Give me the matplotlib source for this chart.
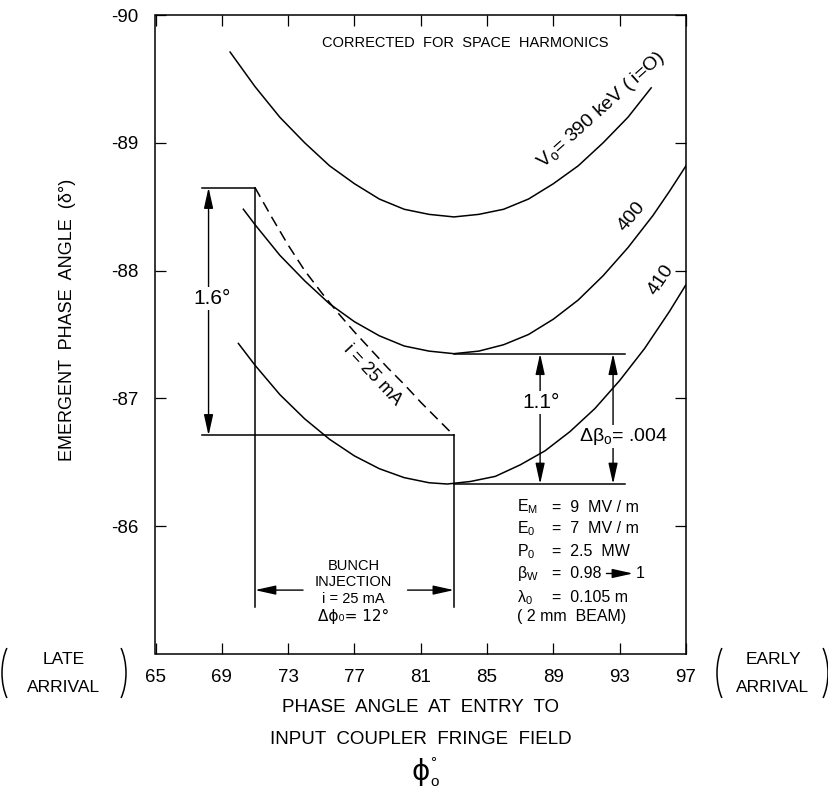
import matplotlib.pyplot as plt
from matplotlib.patches import Arc

plt.rcParams['font.family'] = ['Liberation Sans', 'DejaVu Sans']
plt.rcParams['mathtext.fontset'] = 'custom'
plt.rcParams['mathtext.rm'] = 'Liberation Sans'
plt.rcParams['mathtext.it'] = 'Liberation Sans:italic'
plt.rcParams['axes.unicode_minus'] = False

# curves (phase at entry, emergent phase)
x390 = [69.5, 71, 72.5, 74, 75.5, 77, 78.5, 80, 81.5, 83, 84.5, 86, 87.5, 89, 90.5, 92, 93.5, 94.9]
y390 = [-89.71, -89.44, -89.20, -89.00, -88.82, -88.68, -88.56, -88.48, -88.44, -88.42,
        -88.44, -88.48, -88.56, -88.68, -88.82, -89.00, -89.20, -89.43]

x400 = [70.3, 71, 72.5, 74, 75.5, 77, 78.5, 80, 81.5, 83, 84.5, 86, 87.5, 89, 90.5, 92, 93.5, 95, 96, 97]
y400 = [-88.48, -88.36, -88.12, -87.92, -87.74, -87.60, -87.49, -87.41, -87.37, -87.35,
        -87.37, -87.42, -87.50, -87.62, -87.77, -87.96, -88.18, -88.43, -88.62, -88.82]

x410 = [70, 71, 72.5, 74, 75.5, 77, 78.5, 80, 81.5, 82.6, 84, 85.5, 87, 88.5, 90, 91.5, 93, 94.5, 96, 97]
y410 = [-87.43, -87.26, -87.03, -86.84, -86.68, -86.55, -86.45, -86.38, -86.34, -86.33,
        -86.35, -86.39, -86.48, -86.59, -86.74, -86.92, -87.14, -87.39, -87.68, -87.89]

# i = 25 mA (dashed)
x25 = [71, 72, 73, 74, 75, 76, 77, 78, 79, 80, 81, 82, 83]
y25 = [-88.65, -88.42, -88.20, -88.00, -87.83, -87.67, -87.52, -87.38, -87.24, -87.11, -86.97, -86.84, -86.71]

# construction lines
bunch_start, bunch_end = 71, 83
top_left_y, bottom_left_y = -88.65, -86.71
min400, min410 = -87.35, -86.33
xticks = [65, 69, 73, 77, 81, 85, 89, 93, 97]
yticks = [-90, -89, -88, -87, -86]

W, H = 829, 793


def fpx(x, y):
    return x / W, 1 - y / H


fig = plt.figure(figsize=(W / 100, H / 100), dpi=100)
ax = fig.add_axes([155.5 / W, 1 - 654 / H, (686 - 155.5) / W, (654 - 15) / H])
ax.set_xlim(65, 97)
ax.set_ylim(-85, -90)
ax.set_xticks(xticks)
ax.set_yticks(yticks)
ax.tick_params(direction='in', length=8, width=0.9, top=True, right=True, labelsize=13.5)
ax.tick_params(axis='y', pad=12)
ax.tick_params(axis='x', pad=11)
for s in ax.spines.values():
    s.set_linewidth(1.1)

lw = 1.1
ax.plot(x390, y390, color='black', lw=lw)
ax.plot(x400, y400, color='black', lw=lw)
ax.plot(x410, y410, color='black', lw=lw)
ax.plot(x25, y25, color='black', lw=lw, linestyle=(0, (7, 4)))

# left construction
ax.plot([67.8, bunch_start], [top_left_y, top_left_y], color='black', lw=lw)
ax.plot([67.8, bunch_end], [bottom_left_y, bottom_left_y], color='black', lw=lw)
ax.plot([bunch_start, bunch_start], [top_left_y, -85.37], color='black', lw=lw)
ax.plot([bunch_end, bunch_end], [bottom_left_y, -85.37], color='black', lw=lw)

# right construction
ax.plot([83, 93.3], [min400, min400], color='black', lw=lw)
ax.plot([83, 93.3], [min410, min410], color='black', lw=lw)

arrow = dict(arrowstyle='<|-|>,head_length=0.9,head_width=0.2', color='black',
             lw=1.0, shrinkA=0, shrinkB=0, mutation_scale=14)
one_arrow = dict(arrowstyle='-|>,head_length=0.9,head_width=0.2', color='black',
                 lw=1.0, shrinkA=0, shrinkB=0, mutation_scale=14)
ax.annotate('', xy=(68.2, top_left_y), xytext=(68.2, bottom_left_y), arrowprops=arrow)
ax.annotate('', xy=(88.2, min400), xytext=(88.2, min410), arrowprops=arrow)
ax.annotate('', xy=(92.6, min400), xytext=(92.6, min410), arrowprops=arrow)
ax.annotate('', xy=(bunch_start, -85.50), xytext=(73.9, -85.50), arrowprops=one_arrow)
ax.annotate('', xy=(bunch_end, -85.50), xytext=(80.2, -85.50), arrowprops=one_arrow)

white = dict(facecolor='white', edgecolor='none', pad=1.5)
ax.text(68.4, -87.78, '1.6°', fontsize=15, ha='center', va='center', bbox=white)
ax.text(88.25, -86.97, '1.1°', fontsize=15, ha='center', va='center', bbox=white)
ax.text(93.2, -86.70, r'$\mathregular{Δβ_o}$= .004', fontsize=14, ha='center', va='center',
        bbox=dict(facecolor='white', edgecolor='none', pad=0.5))

ax.text(83.7, -89.78, 'CORRECTED  FOR  SPACE  HARMONICS', fontsize=10.5, ha='center', va='center')
ax.text(91.87, -89.26, r'$\mathregular{V_o}$= 390 keV ( i=O)', fontsize=14, ha='center', va='center',
        rotation=42, rotation_mode='anchor')
ax.text(93.7, -88.42, '400', fontsize=14, ha='center', va='center', rotation=50, rotation_mode='anchor')
ax.text(95.5, -87.93, '410', fontsize=14, ha='center', va='center', rotation=56, rotation_mode='anchor')
ax.text(78.1, -87.18, 'i = 25 mA', fontsize=13, ha='center', va='center', rotation=-47,
        rotation_mode='anchor')

bunch = ['BUNCH', 'INJECTION', 'i = 25 mA']
bunch_y = [-85.69, -85.56, -85.43]
for t, y in zip(bunch, bunch_y):
    ax.text(76.95, y, t, fontsize=10.5, ha='center', va='center')
ax.text(76.95, -85.29, 'Δϕ₀= 12°', fontsize=11, ha='center', va='center',
        family=['DejaVu Sans'])

params = [r'$\mathregular{E_M}$', r'$\mathregular{E_0}$', r'$\mathregular{P_0}$',
          r'$\mathregular{β_W}$', r'$\mathregular{λ_0}$']
values = ['=  9  MV / m', '=  7  MV / m', '=  2.5  MW', '=  0.98', '=  0.105 m']
param_y = [-86.15, -85.98, -85.80, -85.63, -85.44]
for p, v, y in zip(params, values, param_y):
    ax.text(86.8, y, p, fontsize=11.5, ha='left', va='center')
    ax.text(88.9, y, v, fontsize=11.5, ha='left', va='center')
ax.annotate('', xy=(93.8, -85.63), xytext=(92.2, -85.63), arrowprops=one_arrow)
ax.text(93.95, -85.63, '1', fontsize=11.5, ha='left', va='center')
ax.text(86.8, -85.29, '( 2 mm  BEAM)', fontsize=11.5, ha='left', va='center')

# axis titles
fig.text(*fpx(68, 320), 'EMERGENT  PHASE  ANGLE  (δ°)', rotation=90, fontsize=13,
         ha='center', va='center')
fig.text(*fpx(421, 708), 'PHASE  ANGLE  AT  ENTRY  TO', fontsize=13.5, ha='center', va='center')
fig.text(*fpx(421, 740), 'INPUT  COUPLER  FRINGE  FIELD', fontsize=13.5, ha='center', va='center')
fig.text(*fpx(421, 772), 'ϕ', fontsize=20, ha='center', va='center', family=['DejaVu Sans'])
fig.text(*fpx(430, 763), '°', fontsize=11, ha='left', va='center')
fig.text(*fpx(430, 782), 'o', fontsize=11, ha='left', va='center')

# (LATE ARRIVAL)  (EARLY ARRIVAL)
fig.text(*fpx(64, 660), 'LATE', fontsize=12.5, ha='center', va='center')
fig.text(*fpx(64, 688), 'ARRIVAL', fontsize=12.5, ha='center', va='center')
fig.text(*fpx(773, 660), 'EARLY', fontsize=12.5, ha='center', va='center')
fig.text(*fpx(773, 688), 'ARRIVAL', fontsize=12.5, ha='center', va='center')
for cx, t1, t2 in [(22, 120, 240), (106, -60, 60), (737, 120, 240), (808, -60, 60)]:
    c = fpx(cx, 673)
    fig.add_artist(Arc(c, 40 / W, 76 / H, theta1=t1, theta2=t2, transform=fig.transFigure,
                       color='black', lw=1.1))

fig.savefig('out.png', dpi=100)
